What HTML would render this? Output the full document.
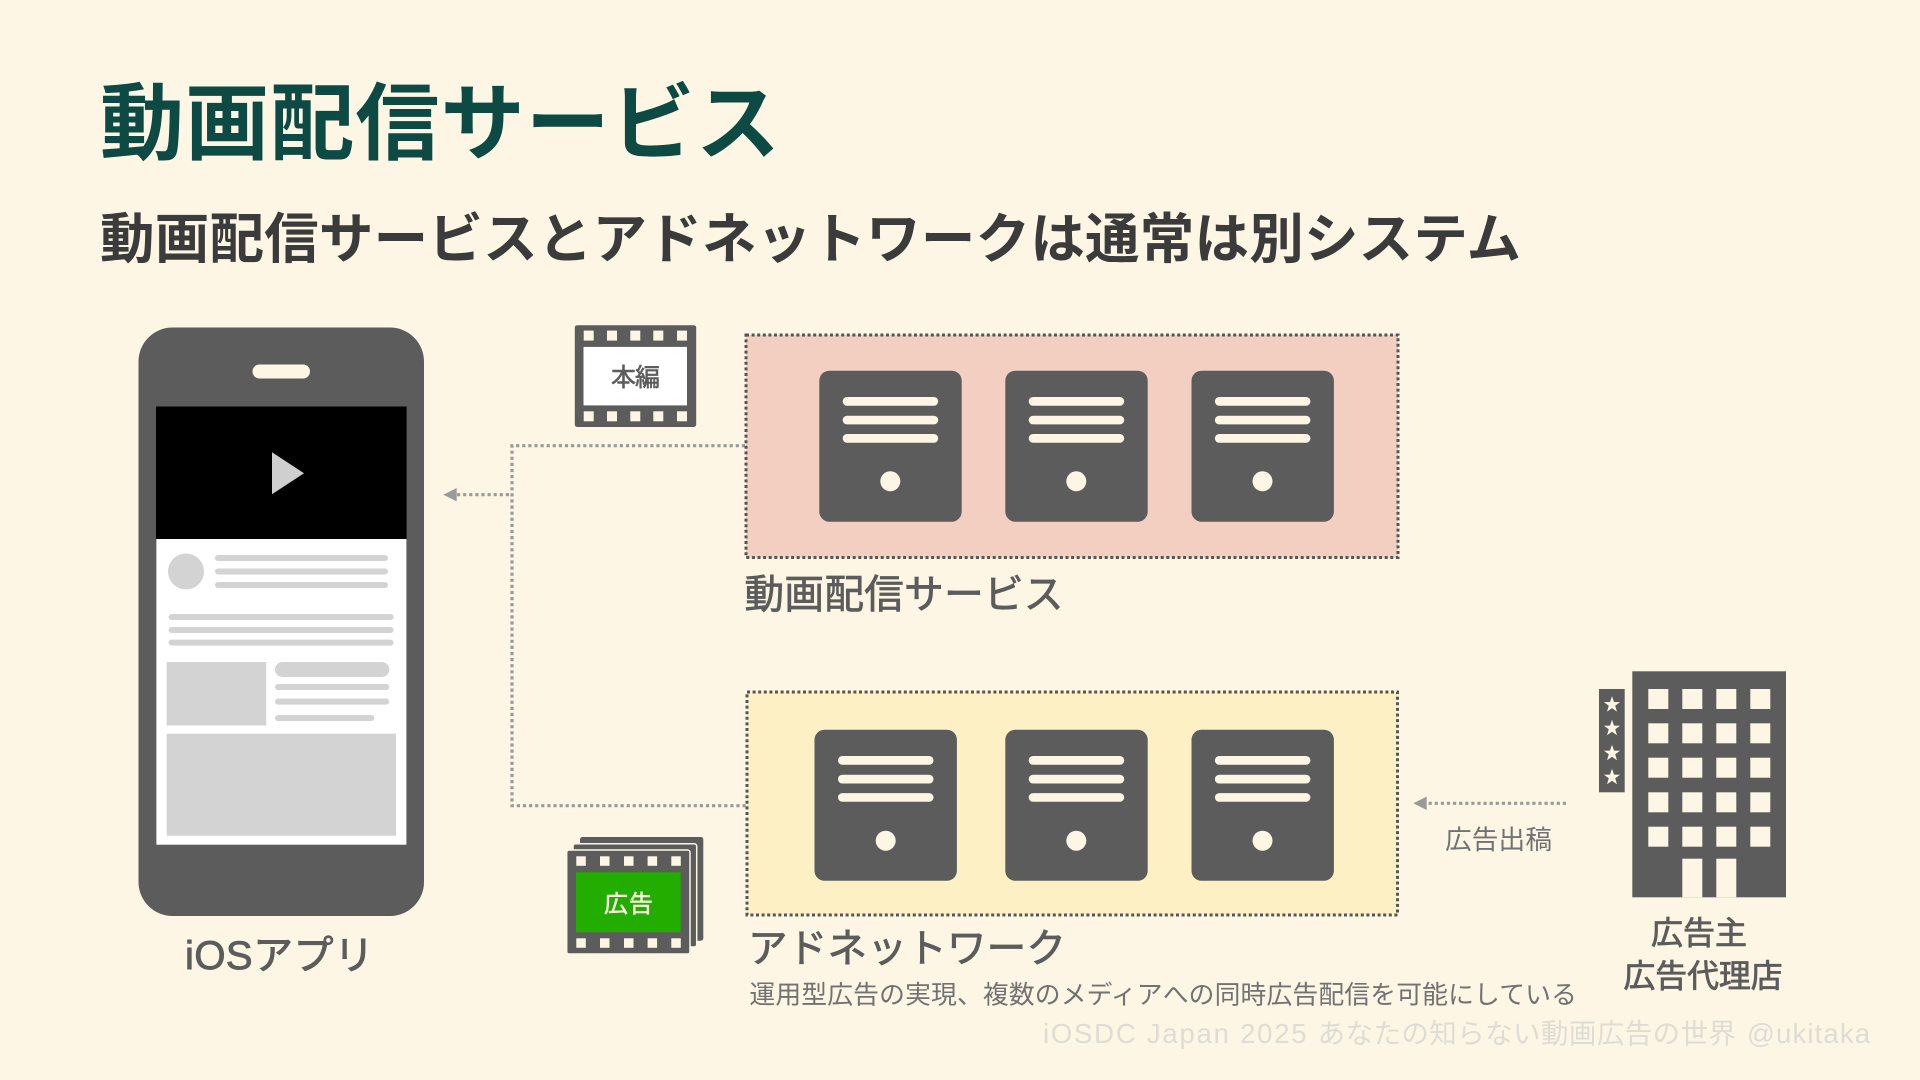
<!DOCTYPE html>
<html lang="ja">
<head>
<meta charset="utf-8">
<title>動画配信サービス</title>
<style>
html,body{margin:0;padding:0;background:#fdf6e4;width:1920px;height:1080px;overflow:hidden}
svg{display:block}
text{font-family:"Liberation Sans","Noto Sans CJK JP",sans-serif}
</style>
</head>
<body>
<svg xmlns="http://www.w3.org/2000/svg" width="1920" height="1080" viewBox="0 0 1920 1080">
<rect width="1920" height="1080" fill="#fdf6e4"/>

<text x="100" y="153" font-size="84" font-weight="700" fill="#0c4a43" textLength="680" lengthAdjust="spacing">動画配信サービス</text>
<text x="100" y="258" font-size="54.5" font-weight="700" fill="#3b3b3b" textLength="1421" lengthAdjust="spacing">動画配信サービスとアドネットワークは通常は別システム</text>

<!-- phone -->
<rect x="138.5" y="327.5" width="285.5" height="588.5" rx="34" fill="#5c5c5c"/>
<rect x="252.5" y="364.5" width="57.5" height="14" rx="7" fill="#fdf6e4"/>
<rect x="156.4" y="406.3" width="250" height="438.4" fill="#fff"/>
<rect x="156" y="406.3" width="250.6" height="132.7" fill="#000"/>
<polygon points="272,452.3 304,473.3 272,494.3" fill="#cfcfcf"/>
<g fill="#d3d3d3">
<ellipse cx="186" cy="571.5" rx="18" ry="18"/>
<rect x="215" y="555" width="173" height="6" rx="3"/>
<rect x="215" y="568.5" width="173" height="6" rx="3"/>
<rect x="215" y="582" width="173" height="6" rx="3"/>
<rect x="168.6" y="614" width="225" height="6" rx="3"/>
<rect x="168.6" y="627" width="225" height="6" rx="3"/>
<rect x="168.6" y="639.6" width="225" height="6" rx="3"/>
<rect x="166.7" y="662" width="99.5" height="63.5"/>
<rect x="275" y="662" width="114.3" height="15" rx="7.5"/>
<rect x="275" y="684" width="114.3" height="6" rx="3"/>
<rect x="275" y="698.6" width="114.3" height="6" rx="3"/>
<rect x="275" y="715" width="99.3" height="6" rx="3"/>
<rect x="166.7" y="733.7" width="229.3" height="102"/>
</g>
<text x="185" y="969" font-size="40" font-weight="400" fill="#5c5c5c" stroke="#5c5c5c" stroke-width="0.9" textLength="189" lengthAdjust="spacing">iOSアプリ</text>

<!-- connectors -->
<g fill="none" stroke="#9a9a9a" stroke-width="3.2" stroke-dasharray="3.2 2.9">
<path d="M745 445.7H512V805.7H746"/>
<path d="M509 494.7H456"/>
<path d="M1566 803.3H1426"/>
</g>
<polygon points="443.3,494.7 456.7,488 456.7,501.4" fill="#9a9a9a"/>
<polygon points="1413.3,803.3 1426.7,796.6 1426.7,810" fill="#9a9a9a"/>

<!-- main film -->
<rect x="574.8" y="325.2" width="121.4" height="101.8" rx="2.5" fill="#5c5c5c"/>
<rect x="583.5" y="346.9" width="103.5" height="58.5" fill="#fff"/>
<g fill="#fdf6e4">
<rect x="583.7" y="330.6" width="10" height="10"/><rect x="607" y="330.6" width="10" height="10"/><rect x="630.3" y="330.6" width="10" height="10"/><rect x="653.3" y="330.6" width="10" height="10"/><rect x="677" y="330.6" width="10" height="10"/>
<rect x="583.7" y="411.3" width="10" height="10"/><rect x="607" y="411.3" width="10" height="10"/><rect x="630.3" y="411.3" width="10" height="10"/><rect x="653.3" y="411.3" width="10" height="10"/><rect x="677" y="411.3" width="10" height="10"/>
</g>
<text x="611" y="386" font-size="25" font-weight="400" fill="#5c5c5c" stroke="#5c5c5c" stroke-width="0.6" textLength="49" lengthAdjust="spacing">本編</text>

<!-- ad film stack -->
<rect x="580" y="837" width="123.3" height="103.7" rx="2.5" fill="#5c5c5c"/>
<rect x="573" y="843.7" width="123.7" height="103.3" rx="2.5" fill="#5c5c5c" stroke="#fdf6e4" stroke-width="1.5"/>
<rect x="566.7" y="850" width="123.3" height="104" rx="2.5" fill="#5c5c5c" stroke="#fdf6e4" stroke-width="1.5"/>
<rect x="576" y="872.3" width="104.7" height="60" fill="#22ad00"/>
<g fill="#fdf6e4">
<rect x="576.3" y="856.3" width="9.5" height="9.5"/><rect x="600" y="856.3" width="9.5" height="9.5"/><rect x="624" y="856.3" width="9.5" height="9.5"/><rect x="647.6" y="856.3" width="9.5" height="9.5"/><rect x="671.3" y="856.3" width="9.5" height="9.5"/>
<rect x="576.3" y="938.3" width="9.5" height="9.5"/><rect x="600" y="938.3" width="9.5" height="9.5"/><rect x="624" y="938.3" width="9.5" height="9.5"/><rect x="647.6" y="938.3" width="9.5" height="9.5"/><rect x="671.3" y="938.3" width="9.5" height="9.5"/>
</g>
<text x="604" y="912" font-size="24" font-weight="400" fill="#fdf6e4" stroke="#fdf6e4" stroke-width="0.5" textLength="49" lengthAdjust="spacing">広告</text>

<!-- pink box -->
<rect x="746" y="335" width="652" height="222.5" fill="#f2cfc0" stroke="#555" stroke-width="3" stroke-dasharray="3 2.6"/>
<g fill="#5c5c5c">
<rect x="819.3" y="370.7" width="142.4" height="151" rx="10"/>
<rect x="1005.3" y="370.7" width="142.4" height="151" rx="10"/>
<rect x="1191.5" y="370.7" width="142.4" height="151" rx="10"/>
</g>
<g fill="#fdf6e4">
<rect x="842.7" y="397" width="95.5" height="8.7" rx="4.3"/><rect x="842.7" y="415.7" width="95.5" height="8.7" rx="4.3"/><rect x="842.7" y="434" width="95.5" height="8.7" rx="4.3"/><circle cx="890.3" cy="481.3" r="10"/>
<rect x="1028.7" y="397" width="95.5" height="8.7" rx="4.3"/><rect x="1028.7" y="415.7" width="95.5" height="8.7" rx="4.3"/><rect x="1028.7" y="434" width="95.5" height="8.7" rx="4.3"/><circle cx="1076.3" cy="481.3" r="10"/>
<rect x="1214.9" y="397" width="95.5" height="8.7" rx="4.3"/><rect x="1214.9" y="415.7" width="95.5" height="8.7" rx="4.3"/><rect x="1214.9" y="434" width="95.5" height="8.7" rx="4.3"/><circle cx="1262.5" cy="481.3" r="10"/>
</g>
<text x="744.5" y="608" font-size="39.6" font-weight="400" fill="#5c5c5c" stroke="#5c5c5c" stroke-width="0.8" textLength="319" lengthAdjust="spacing">動画配信サービス</text>

<!-- yellow box -->
<rect x="747" y="692" width="650.5" height="223" fill="#fdf0c4" stroke="#555" stroke-width="3" stroke-dasharray="3 2.6"/>
<g fill="#5c5c5c">
<rect x="814.5" y="729.8" width="142.4" height="151" rx="10"/>
<rect x="1005.3" y="729.8" width="142.4" height="151" rx="10"/>
<rect x="1191.5" y="729.8" width="142.4" height="151" rx="10"/>
</g>
<g fill="#fdf6e4">
<rect x="838" y="756" width="95.5" height="8.7" rx="4.3"/><rect x="838" y="774.8" width="95.5" height="8.7" rx="4.3"/><rect x="838" y="793.1" width="95.5" height="8.7" rx="4.3"/><circle cx="885.7" cy="840.7" r="10"/>
<rect x="1028.7" y="756" width="95.5" height="8.7" rx="4.3"/><rect x="1028.7" y="774.8" width="95.5" height="8.7" rx="4.3"/><rect x="1028.7" y="793.1" width="95.5" height="8.7" rx="4.3"/><circle cx="1076.3" cy="840.7" r="10"/>
<rect x="1214.9" y="756" width="95.5" height="8.7" rx="4.3"/><rect x="1214.9" y="774.8" width="95.5" height="8.7" rx="4.3"/><rect x="1214.9" y="793.1" width="95.5" height="8.7" rx="4.3"/><circle cx="1262.5" cy="840.7" r="10"/>
</g>
<text x="748" y="962" font-size="39.6" font-weight="400" fill="#5c5c5c" stroke="#5c5c5c" stroke-width="0.8" textLength="318" lengthAdjust="spacing">アドネットワーク</text>
<text x="749.4" y="1003.5" font-size="25.8" font-weight="400" fill="#727272" textLength="827.5" lengthAdjust="spacing">運用型広告の実現、複数のメディアへの同時広告配信を可能にしている</text>

<!-- building -->
<rect x="1632.3" y="671.3" width="153.7" height="226" fill="#5c5c5c"/>
<rect x="1599" y="689" width="25.7" height="103.3" fill="#5c5c5c"/>
<g fill="#fdf6e4">
<rect x="1648.3" y="689" width="20" height="20"/><rect x="1682.3" y="689" width="20" height="20"/><rect x="1716.3" y="689" width="20" height="20"/><rect x="1750.3" y="689" width="20" height="20"/>
<rect x="1648.3" y="723.3" width="20" height="20"/><rect x="1682.3" y="723.3" width="20" height="20"/><rect x="1716.3" y="723.3" width="20" height="20"/><rect x="1750.3" y="723.3" width="20" height="20"/>
<rect x="1648.3" y="757.7" width="20" height="20"/><rect x="1682.3" y="757.7" width="20" height="20"/><rect x="1716.3" y="757.7" width="20" height="20"/><rect x="1750.3" y="757.7" width="20" height="20"/>
<rect x="1648.3" y="792.3" width="20" height="20"/><rect x="1682.3" y="792.3" width="20" height="20"/><rect x="1716.3" y="792.3" width="20" height="20"/><rect x="1750.3" y="792.3" width="20" height="20"/>
<rect x="1648.3" y="826.7" width="20" height="20"/><rect x="1682.3" y="826.7" width="20" height="20"/><rect x="1716.3" y="826.7" width="20" height="20"/><rect x="1750.3" y="826.7" width="20" height="20"/>
<rect x="1682.3" y="858.7" width="20" height="38.6"/><rect x="1716.3" y="858.7" width="20" height="38.6"/>
<polygon transform="translate(1612,704.7)" points="0,-8.5 2,-2.7 8.1,-2.6 3.2,1 5,6.9 0,3.4 -5,6.9 -3.2,1 -8.1,-2.6 -2,-2.7"/>
<polygon transform="translate(1612,728.3)" points="0,-8.5 2,-2.7 8.1,-2.6 3.2,1 5,6.9 0,3.4 -5,6.9 -3.2,1 -8.1,-2.6 -2,-2.7"/>
<polygon transform="translate(1612,753.3)" points="0,-8.5 2,-2.7 8.1,-2.6 3.2,1 5,6.9 0,3.4 -5,6.9 -3.2,1 -8.1,-2.6 -2,-2.7"/>
<polygon transform="translate(1612,777.3)" points="0,-8.5 2,-2.7 8.1,-2.6 3.2,1 5,6.9 0,3.4 -5,6.9 -3.2,1 -8.1,-2.6 -2,-2.7"/>
</g>

<text x="1445" y="849" font-size="26.7" font-weight="400" fill="#727272" textLength="107" lengthAdjust="spacing">広告出稿</text>
<text x="1651" y="944" font-size="32" font-weight="400" fill="#5c5c5c" stroke="#5c5c5c" stroke-width="0.8" textLength="96" lengthAdjust="spacing">広告主</text>
<text x="1623.5" y="987" font-size="31.8" font-weight="400" fill="#5c5c5c" stroke="#5c5c5c" stroke-width="0.8" textLength="159" lengthAdjust="spacing">広告代理店</text>

<text y="1043" font-size="27.5" font-weight="400" fill="#dedcd3"><tspan x="1043" textLength="263.6" lengthAdjust="spacing">iOSDC Japan 2025</tspan><tspan x="1317.6" textLength="418.4" lengthAdjust="spacing">あなたの知らない動画広告の世界</tspan><tspan x="1747" textLength="123" lengthAdjust="spacing">@ukitaka</tspan></text>
</svg>
</body>
</html>
